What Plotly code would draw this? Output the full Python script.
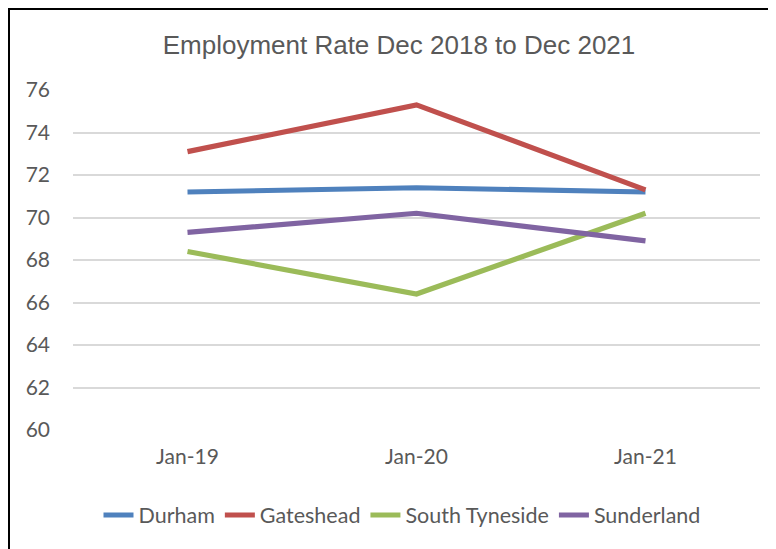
import plotly.graph_objects as go

categories = ["Jan-19", "Jan-20", "Jan-21"]
durham = [71.2, 71.4, 71.2]
gateshead = [73.1, 75.3, 71.3]
south_tyneside = [68.4, 66.4, 70.2]
sunderland = [69.3, 70.2, 68.9]
y_ticks = [60, 62, 64, 66, 68, 70, 72, 74, 76]

series = [
    ("Durham", durham, "#4F81BD"),
    ("Gateshead", gateshead, "#C0504D"),
    ("South Tyneside", south_tyneside, "#9BBB59"),
    ("Sunderland", sunderland, "#8064A2"),
]

fig = go.Figure()
for name, vals, color in series:
    fig.add_trace(go.Scatter(x=categories, y=vals, name=name, mode="lines",
                             line=dict(color=color, width=5.2)))

# page has an 8px body margin; figure coordinates are page coordinates minus 8
OFF = 8
W, H = 768, 541
l, r, t, b = 73 - OFF, 16, 90 - OFF, 119
pw, ph = W - l - r, H - t - b

def px_x(x):
    return (x - OFF - l) / pw

def px_y(y):
    return (H - b - (y - OFF)) / ph

fig.add_shape(type="rect", xref="paper", yref="paper",
              x0=px_x(9), x1=px_x(W + 40), y0=px_y(H + 40), y1=px_y(9),
              line=dict(color="black", width=2), fillcolor="rgba(0,0,0,0)", layer="below")

tick_font = dict(size=21, family="Lato, sans-serif", color="#595959")

fig.update_layout(
    width=W, height=H,
    margin=dict(l=l, r=r, t=t, b=b),
    paper_bgcolor="white", plot_bgcolor="white",
    font=dict(family="Lato, sans-serif", color="#595959"),
    title=dict(text="Employment Rate Dec 2018 to Dec 2021", x=px_x(399), xanchor="center",
               xref="paper", y=1 - (45 - OFF) / H, yanchor="middle",
               font=dict(family="Liberation Sans, Arial, sans-serif", size=26, color="#595959")),
    xaxis=dict(type="category", showgrid=False, zeroline=False, showline=False,
               ticks="", tickfont=tick_font, ticklabelstandoff=12, range=[-0.5, 2.5]),
    yaxis=dict(range=[60, 76], tickvals=y_ticks, showgrid=True, gridcolor="#D9D9D9",
               gridwidth=1.5, zeroline=False, showline=False, ticks="",
               tickfont=tick_font, ticklabelstandoff=22),
    legend=dict(orientation="h", x=px_x(402), xanchor="center", y=px_y(515), yanchor="middle",
                font=dict(size=21.5, family="Lato, sans-serif", color="#595959"),
                itemwidth=30, tracegroupgap=0),
    showlegend=True,
)

fig.write_html("out.html")
